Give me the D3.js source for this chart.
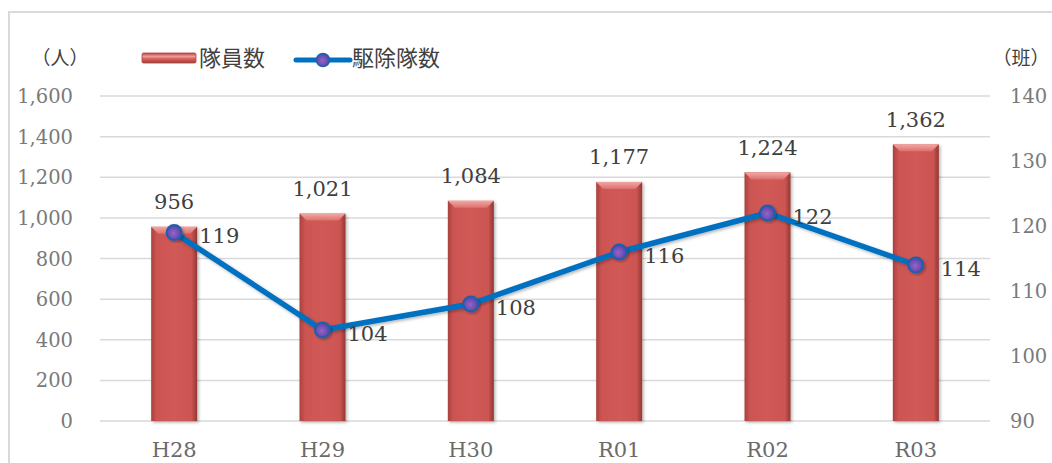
<!DOCTYPE html>
<html><head><meta charset="utf-8">
<script src="https://cdn.jsdelivr.net/npm/d3@7"></script>
<style>body{margin:0;background:#fff}svg{display:block}</style>
</head><body>
<svg id="c" width="1052" height="463"></svg>
<script>
const categories = ["H28","H29","H30","R01","R02","R03"];
const members = [956,1021,1084,1177,1224,1362];
const teams = [119,104,108,116,122,114];
const leftTicks = [0,200,400,600,800,1000,1200,1400,1600];
const rightTicks = [90,100,110,120,130,140];
const legendNames = ["隊員数","駆除隊数"];
const leftUnit = "（人）", rightUnit = "（班）";

const svg = d3.select("#c");
const m={l:100,r:990,t:96,b:421};
const x = d3.scaleBand().domain(categories).range([m.l,m.r]).paddingInner(0.69).paddingOuter(0.345);
const yL = d3.scaleLinear().domain([0,1600]).range([m.b,m.t]);
const yR = d3.scaleLinear().domain([90,140]).range([m.b,m.t]);
const serif = "'DejaVu Serif', serif";
const cjk = "'Noto Sans CJK JP', sans-serif";

const defs = svg.append("defs");
const bg = defs.append("linearGradient").attr("id","barG").attr("x1","0").attr("x2","1").attr("y1","0").attr("y2","0");
bg.append("stop").attr("offset","0").attr("stop-color","#a8413e");
bg.append("stop").attr("offset","0.12").attr("stop-color","#cc5552");
bg.append("stop").attr("offset","0.5").attr("stop-color","#d05a57");
bg.append("stop").attr("offset","0.88").attr("stop-color","#cc5552");
bg.append("stop").attr("offset","1").attr("stop-color","#933633");
const tg = defs.append("linearGradient").attr("id","topG").attr("x1","0").attr("x2","0").attr("y1","0").attr("y2","1");
tg.append("stop").attr("offset","0").attr("stop-color","#f2a7a4");
tg.append("stop").attr("offset","1").attr("stop-color","#dc706d");
const mg = defs.append("radialGradient").attr("id","mkG").attr("cx","0.45").attr("cy","0.55").attr("r","0.6");
mg.append("stop").attr("offset","0").attr("stop-color","#9a62c8");
mg.append("stop").attr("offset","0.6").attr("stop-color","#6a4fb2");
mg.append("stop").attr("offset","1").attr("stop-color","#3a4aa0");
const lg = defs.append("linearGradient").attr("id","legG").attr("x1","0").attr("x2","0").attr("y1","0").attr("y2","1");
lg.append("stop").attr("offset","0").attr("stop-color","#b84845");
lg.append("stop").attr("offset","0.35").attr("stop-color","#f39a97");
lg.append("stop").attr("offset","0.6").attr("stop-color","#d35e5b");
lg.append("stop").attr("offset","1").attr("stop-color","#a63e3b");
const sh = defs.append("filter").attr("id","sh").attr("x","-20%").attr("y","-20%").attr("width","140%").attr("height","140%");
sh.append("feDropShadow").attr("dx","1.5").attr("dy","1.5").attr("stdDeviation","1.5").attr("flood-color","#000").attr("flood-opacity","0.3");

// border
svg.append("path").attr("d","M9,463 V12 H1052").attr("fill","none").attr("stroke","#d9d9d9").attr("stroke-width",2);

// gridlines
svg.append("g").selectAll("line").data(leftTicks).join("line")
  .attr("x1",m.l).attr("x2",m.r).attr("y1",d=>yL(d)).attr("y2",d=>yL(d))
  .attr("stroke","#d9d9d9").attr("stroke-width",1.5);

// left axis labels
svg.append("g").selectAll("text").data(leftTicks).join("text")
  .attr("x",73).attr("y",d=>yL(d)).attr("dy","0.36em").attr("text-anchor","end")
  .attr("font-family",serif).attr("font-size",19.5).attr("fill","#7a7a7a")
  .text(d=>d3.format(",")(d));
// right axis labels
svg.append("g").selectAll("text").data(rightTicks).join("text")
  .attr("x",1010).attr("y",d=>yR(d)).attr("dy","0.36em").attr("text-anchor","start")
  .attr("font-family",serif).attr("font-size",19.5).attr("fill","#7a7a7a")
  .text(d=>d);
// category labels
svg.append("g").selectAll("text").data(categories).join("text")
  .attr("x",d=>x(d)+x.bandwidth()/2).attr("y",449).attr("dy","0.36em").attr("text-anchor","middle")
  .attr("font-family",serif).attr("font-size",21).attr("fill","#6a6a6a")
  .text(d=>d);

// bars
const bw = x.bandwidth();
const bars = svg.append("g").selectAll("g").data(members).join("g")
  .attr("filter","url(#sh)");
bars.append("rect")
  .attr("x",(d,i)=>x(categories[i])).attr("y",d=>yL(d))
  .attr("width",bw).attr("height",d=>yL(0)-yL(d)).attr("fill","url(#barG)");
bars.append("path")
  .attr("d",(d,i)=>{const x0=x(categories[i]),y0=yL(d),b=7;
    return `M${x0},${y0} H${x0+bw} L${x0+bw-b},${y0+b} H${x0+b} Z`;})
  .attr("fill","url(#topG)");
// bar labels
svg.append("g").selectAll("text").data(members).join("text")
  .attr("x",(d,i)=>x(categories[i])+bw/2).attr("y",d=>yL(d)-25).attr("dy","0.36em").attr("text-anchor","middle")
  .attr("font-family",serif).attr("font-size",21).attr("fill","#404040")
  .text(d=>d3.format(",")(d));

// line
const cx = (i)=>x(categories[i])+bw/2;
const line = d3.line().x((d,i)=>cx(i)).y(d=>yR(d));
svg.append("path").datum(teams).attr("d",line).attr("fill","none")
  .attr("stroke","#0070c0").attr("stroke-width",5.5).attr("stroke-linejoin","round").attr("filter","url(#sh)");
svg.append("g").selectAll("circle").data(teams).join("circle")
  .attr("cx",(d,i)=>cx(i)).attr("cy",d=>yR(d)).attr("r",7.5)
  .attr("fill","url(#mkG)").attr("stroke","#1f5fb0").attr("stroke-width",2).attr("filter","url(#sh)");
svg.append("g").selectAll("text").data(teams).join("text")
  .attr("x",(d,i)=>cx(i)+25).attr("y",d=>yR(d)+3).attr("dy","0.36em").attr("text-anchor","start")
  .attr("font-family",serif).attr("font-size",21).attr("fill","#404040")
  .text(d=>d);

// units
svg.append("text").attr("x",60).attr("y",58).attr("dy","0.36em").attr("text-anchor","middle")
  .attr("font-family",cjk).attr("font-size",19).attr("fill","#404040").text(leftUnit);
svg.append("text").attr("x",1021).attr("y",58).attr("dy","0.36em").attr("text-anchor","middle")
  .attr("font-family",cjk).attr("font-size",19).attr("fill","#404040").text(rightUnit);

// legend
const leg = svg.append("g");
leg.append("rect").attr("x",142).attr("y",53).attr("width",54).attr("height",10).attr("rx",1.5)
  .attr("fill","url(#legG)").attr("stroke","#a84340").attr("stroke-width",0.8);
leg.append("text").attr("x",199).attr("y",58).attr("dy","0.36em")
  .attr("font-family",cjk).attr("font-size",22).attr("fill","#404040").text(legendNames[0]);
leg.append("line").attr("x1",296).attr("x2",350).attr("y1",60).attr("y2",60)
  .attr("stroke","#0070c0").attr("stroke-width",5).attr("stroke-linecap","round");
leg.append("circle").attr("cx",323).attr("cy",60).attr("r",6.5)
  .attr("fill","url(#mkG)").attr("stroke","#1f5fb0").attr("stroke-width",1.5);
leg.append("text").attr("x",352).attr("y",58).attr("dy","0.36em")
  .attr("font-family",cjk).attr("font-size",22).attr("fill","#404040").text(legendNames[1]);
</script>
</body></html>
